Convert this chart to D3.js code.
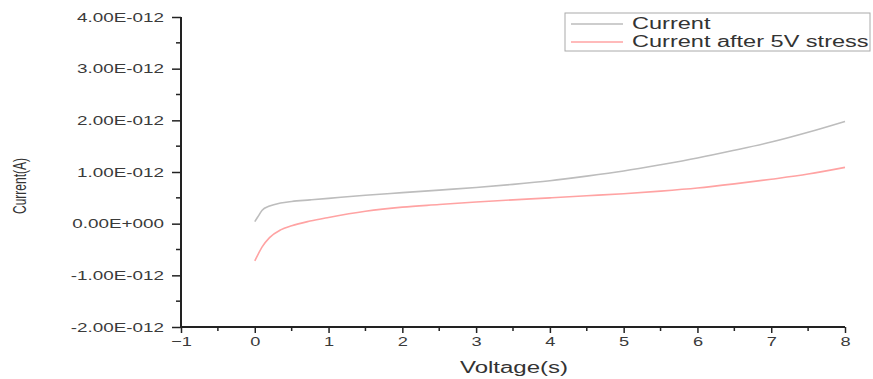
<!DOCTYPE html>
<html><head><meta charset="utf-8">
<script src="https://cdn.jsdelivr.net/npm/d3@7"></script>
<style>body{margin:0;background:#fff}svg{display:block;font-family:"Liberation Sans",Arial,sans-serif}</style>
</head><body><svg id="c" width="873" height="379"></svg>
<script>
const voltage = [0, 0.05, 0.1, 0.2, 0.35, 0.5, 0.75, 1, 1.5, 2, 2.5, 3, 3.5, 4, 4.5, 5, 5.5, 6, 6.5, 7, 7.5, 8];
const current = [0.04, 0.15, 0.26, 0.34, 0.40, 0.43, 0.46, 0.49, 0.55, 0.60, 0.65, 0.70, 0.76, 0.83, 0.92, 1.02, 1.14, 1.27, 1.42, 1.58, 1.77, 1.98].map(v => v * 1e-12);
const currentStress = [-0.72, -0.58, -0.45, -0.27, -0.12, -0.04, 0.05, 0.12, 0.24, 0.32, 0.37, 0.42, 0.46, 0.50, 0.54, 0.58, 0.63, 0.69, 0.77, 0.86, 0.96, 1.09].map(v => v * 1e-12);
const xTicks = [-1, 0, 1, 2, 3, 4, 5, 6, 7, 8];
const yTicks = [4e-12, 3e-12, 2e-12, 1e-12, 0, -1e-12, -2e-12];
const yTickLabels = ["4.00E-012", "3.00E-012", "2.00E-012", "1.00E-012", "0.00E+000", "-1.00E-012", "-2.00E-012"];
const seriesNames = ["Current", "Current after 5V stress"];
const colors = ["#bdbdbd", "#ffa3a3"];

const svg = d3.select("#c");
const x = d3.scaleLinear().domain([-1, 8]).range([181, 845]);
const y = d3.scaleLinear().domain([-2e-12, 4e-12]).range([327, 17]);

function stretch(sel, f) {
  sel.each(function () {
    const len = this.getComputedTextLength();
    d3.select(this).attr("textLength", len * f).attr("lengthAdjust", "spacingAndGlyphs");
  });
}

const xMinor = d3.range(-0.5, 8, 1);
const yMinor = d3.range(-1.5e-12, 4e-12, 1e-12);

const gx = svg.append("g").attr("transform", `translate(0,${y(-2e-12)})`)
  .call(d3.axisBottom(x).tickValues(xTicks).tickSize(6).tickPadding(4).tickFormat(d3.format("d")));
gx.append("g").selectAll("line").data(xMinor).join("line")
  .attr("x1", d => x(d)).attr("x2", d => x(d)).attr("y1", 0).attr("y2", 4).attr("stroke", "#222").attr("stroke-width", 1.5);
const gy = svg.append("g").attr("transform", `translate(${x(-1)},0)`)
  .call(d3.axisLeft(y).tickValues(yTicks).tickSize(9).tickPadding(8).tickFormat((d, i) => yTickLabels[i]));
gy.append("g").selectAll("line").data(yMinor).join("line")
  .attr("y1", d => y(d)).attr("y2", d => y(d)).attr("x1", 0).attr("x2", -5).attr("stroke", "#222").attr("stroke-width", 1.5);

[gx, gy].forEach(g => {
  g.select(".domain").attr("stroke", "#222").attr("stroke-width", 2);
  g.selectAll(".tick line").attr("stroke", "#222").attr("stroke-width", 1.5);
  g.selectAll(".tick text").attr("fill", "#3a3a3a").style("font-size", "13px").style("font-family", "'Liberation Sans',Arial,sans-serif");
});
gx.select(".domain").attr("d", `M${x(-1)},0H${x(8)}`);
gy.select(".domain").attr("d", `M0,${y(4e-12)}V${y(-2e-12)}`);
stretch(gy.selectAll(".tick text"), 1.45);
stretch(gx.selectAll(".tick text"), 1.4);

const line = d3.line().x((d, i) => x(voltage[i])).y(d => y(d)).curve(d3.curveMonotoneX);
[current, currentStress].forEach((s, k) => {
  svg.append("path").datum(s).attr("d", line).attr("fill", "none").attr("stroke", colors[k]).attr("stroke-width", 1.6);
});

const xl = svg.append("text").attr("x", 514).attr("y", 373).attr("text-anchor", "middle")
  .style("font-size", "16px").attr("fill", "#333").text("Voltage(s)");
stretch(xl, 1.5);
svg.append("text").attr("transform", "translate(26,186) scale(1.5,1) rotate(-90)").attr("text-anchor", "middle")
  .style("font-size", "12px").attr("fill", "#333").text("Current(A)");

const lg = svg.append("g");
lg.append("rect").attr("x", 565).attr("y", 13).attr("width", 305).attr("height", 38)
  .attr("fill", "#fff").attr("stroke", "#aaa").attr("stroke-width", 1);
seriesNames.forEach((n, k) => {
  const yy = 24 + k * 18;
  lg.append("line").attr("x1", 571).attr("x2", 623).attr("y1", yy).attr("y2", yy).attr("stroke", colors[k]).attr("stroke-width", 1.6);
  const t = lg.append("text").attr("x", 632).attr("y", yy + 5).style("font-size", "16px").attr("fill", "#333").text(n);
  stretch(t, 1.47);
});
</script></body></html>
